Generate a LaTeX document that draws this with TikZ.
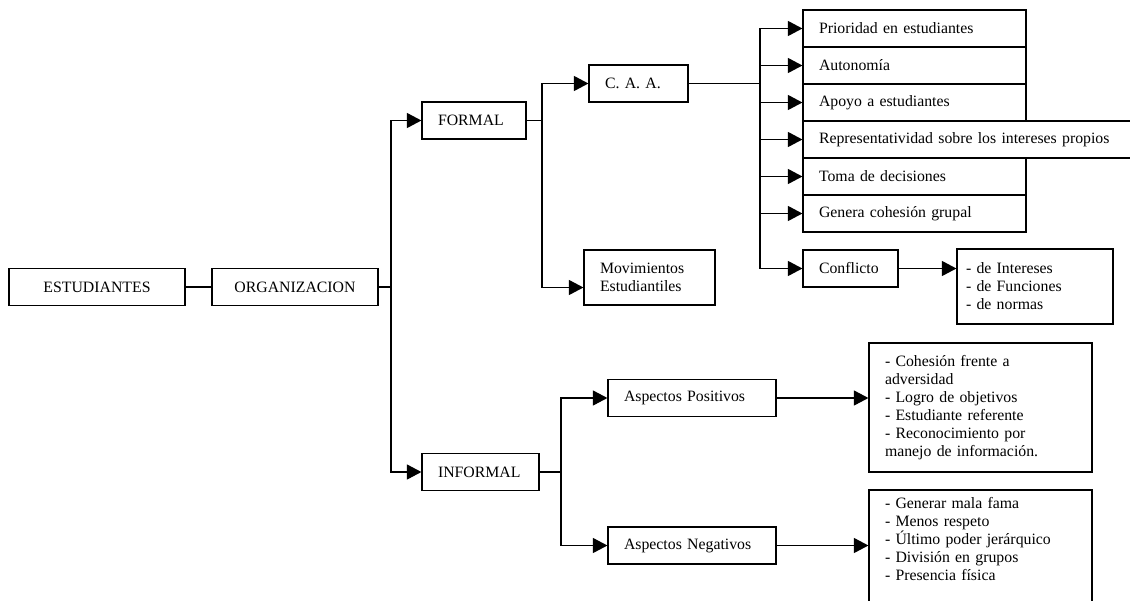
\documentclass[tikz,border=0pt]{standalone}
\usepackage{fontspec}
\setmainfont{Liberation Serif}
\usetikzlibrary{arrows.meta, positioning}

\begin{document}
\begin{tikzpicture}[
  x=1pt, y=-1pt,
  font=\fontsize{15.8}{18}\selectfont,
  cbox/.style={draw, line width=1.2pt, minimum height=37pt, inner sep=0pt, align=center},
  lbox/.style={draw, line width=1.2pt, minimum height=37pt, inner xsep=16pt, inner ysep=0pt, align=left},
  link/.style={line width=1.2pt},
  arr/.style={line width=1.2pt, -{Triangle[length=14.5pt, width=15pt]}}
]
  \useasboundingbox (0,0) rectangle (1130,600);
  % left side
  \node[cbox, minimum width=176pt] (est) at (97,287) {ESTUDIANTES};
  \node[cbox, minimum width=166pt] (org) at (295,287) {ORGANIZACION};
  \node[lbox, text width=72pt] (formal) at (474,120.5) {FORMAL};
  \node[lbox, text width=85pt] (informal) at (480.5,472) {INFORMAL};
  % formal branch
  \node[lbox, text width=67pt] (caa) at (638.5,83.5) {C. A. A.};
  \node[lbox, text width=99pt, minimum height=55pt] (mov) at (649.5,277.5) {Movimientos\\Estudiantiles};
  \node[lbox, text width=191pt] (prio) at (914.5,28.5) {Prioridad en estudiantes};
  \node[lbox, text width=191pt] (auto) at (914.5,65.5) {Autonomía};
  \node[lbox, text width=191pt] (apoyo) at (914.5,102.5) {Apoyo a estudiantes};
  \node[lbox, text width=298pt] (repre) at (968,139.5) {Representatividad sobre los intereses propios};
  \node[lbox, text width=191pt] (toma) at (914.5,176.5) {Toma de decisiones};
  \node[lbox, text width=191pt] (genera) at (914.5,213.5) {Genera cohesión grupal};
  \node[lbox, text width=63pt] (conf) at (850.5,268.5) {Conflicto};
  \node[lbox, text width=138pt, inner xsep=9pt, minimum height=75pt] (conflist) at (1035,286.5)
    {- de Intereses\\- de Funciones\\- de normas};
  % informal branch
  \node[lbox, text width=136pt] (posit) at (692,398) {Aspectos Positivos};
  \node[lbox, text width=136pt] (negat) at (692,545.5) {Aspectos Negativos};
  \node[lbox, text width=191pt, minimum height=129pt] (poslist) at (980.5,407.5)
    {- Cohesión frente a\\adversidad\\- Logro de objetivos\\- Estudiante referente\\- Reconocimiento por\\manejo de información.};
  \node[lbox, text width=191pt, minimum height=116pt] (neglist) at (980.5,548)
    {- Generar mala fama\\- Menos respeto\\- Último poder jerárquico\\- División en grupos\\- Presencia física\\\mbox{}};

  \coordinate (t0) at (391,287);
  \coordinate (t1) at (542,120.5);
  \coordinate (t2) at (760,83.5);
  \coordinate (t3) at (561,472);

  \draw[link] (est) -- (org);
  \draw[link] (org) -- (t0);
  \draw[arr] (t0) |- (formal);
  \draw[arr] (t0) |- (informal);

  \draw[link] (formal) -- (t1);
  \draw[arr] (t1) |- (caa);
  \draw[arr] (t1) |- ([yshift=-10pt]mov.west);

  \draw[link] (caa) -- (t2);
  \foreach \n in {prio, auto, apoyo, repre, toma, genera, conf}
    \draw[arr] (t2) |- (\n);
  \draw[arr] (conf) -- (conflist.west |- conf.east);

  \draw[link] (informal) -- (t3);
  \draw[arr] (t3) |- (posit);
  \draw[arr] (t3) |- (negat);
  \draw[arr] (posit) -- (poslist.west |- posit.east);
  \draw[arr] (negat) -- (neglist.west |- negat.east);
\end{tikzpicture}
\end{document}
